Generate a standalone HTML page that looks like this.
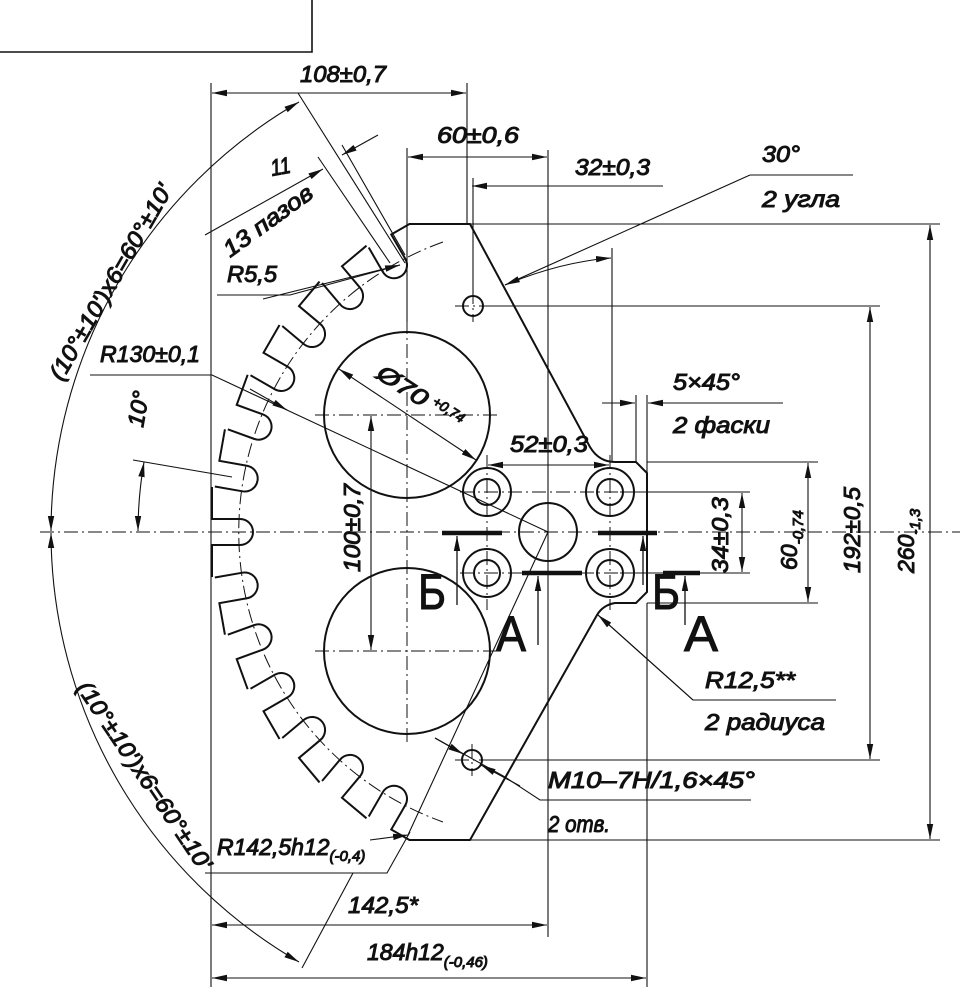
<!DOCTYPE html>
<html><head><meta charset="utf-8"><style>
html,body{margin:0;padding:0;background:#fff;}
svg{display:block;}
text{font-family:"Liberation Sans","DejaVu Sans",sans-serif;font-style:italic;fill:#111;}
.up{font-style:normal;}
</style></head><body>
<svg width="966" height="995" viewBox="0 0 966 995" xmlns="http://www.w3.org/2000/svg">
<defs>
<marker id="a" markerUnits="userSpaceOnUse" markerWidth="16" markerHeight="8" refX="15" refY="4" orient="auto-start-reverse"><path d="M0,0.8 L15,4 L0,7.2 z" fill="#111"/></marker>
</defs>
<g fill="none" stroke="#111">
<path d="M0,52 H312 V0" stroke-width="1.6"/>

<g stroke-width="2">
<g transform="rotate(0 548 532)"><path d="M212,487 V519 H240 A13,13 0 0 1 240,545 H212 V577"/></g>
<g transform="rotate(10 548 532)"><path d="M212,487 V519 H240 A13,13 0 0 1 240,545 H212"/></g>
<g transform="rotate(20 548 532)"><path d="M212,487 V519 H240 A13,13 0 0 1 240,545 H212"/></g>
<g transform="rotate(30 548 532)"><path d="M212,487 V519 H240 A13,13 0 0 1 240,545 H212"/></g>
<g transform="rotate(40 548 532)"><path d="M212,487 V519 H240 A13,13 0 0 1 240,545 H212"/></g>
<g transform="rotate(50 548 532)"><path d="M212,487 V519 H240 A13,13 0 0 1 240,545 H212"/></g>
<g transform="rotate(60 548 532)"><path d="M212,498 V519 H240 A13,13 0 0 1 240,545 H212"/></g>
<g transform="rotate(-10 548 532)"><path d="M212,519 H240 A13,13 0 0 1 240,545 H212 V577"/></g>
<g transform="rotate(-20 548 532)"><path d="M212,519 H240 A13,13 0 0 1 240,545 H212 V577"/></g>
<g transform="rotate(-30 548 532)"><path d="M212,519 H240 A13,13 0 0 1 240,545 H212 V577"/></g>
<g transform="rotate(-40 548 532)"><path d="M212,519 H240 A13,13 0 0 1 240,545 H212 V577"/></g>
<g transform="rotate(-50 548 532)"><path d="M212,519 H240 A13,13 0 0 1 240,545 H212 V577"/></g>
<g transform="rotate(-60 548 532)"><path d="M212,519 H240 A13,13 0 0 1 240,545 H212 V566"/></g>
<path d="M409,224 L470,224 L590,447 Q599,462 615,462 L636,462 L647,473 L647,592 L636,603 L615,603 Q603,605 597,615 L470,840 L409,840"/>
<circle cx="407" cy="415" r="83"/>
<circle cx="407" cy="651" r="83"/>
<circle cx="548" cy="532" r="29"/>
<circle cx="487" cy="492" r="24"/><circle cx="487" cy="492" r="13"/>
<circle cx="610" cy="492" r="24"/><circle cx="610" cy="492" r="13"/>
<circle cx="487" cy="573" r="24"/><circle cx="487" cy="573" r="13"/>
<circle cx="610" cy="573" r="24"/><circle cx="610" cy="573" r="13"/>
<circle cx="473" cy="306" r="10"/>
<circle cx="472" cy="760" r="10"/>
</g>

<g stroke-width="1" stroke-dasharray="14,4,2,4">
<path d="M40,532 H960"/>
<path d="M443,242 A308,308 0 0 0 443,822"/>
<path d="M315,415 H500 M407,320 V745 M315,651 H500"/>
<path d="M460,492 H640 M460,573 H640 M487,455 V610 M610,455 V610"/>
<path d="M455,306 H490 M473,290 V322 M455,760 H490 M472,744 V776"/>
</g>

<g stroke-width="1.1">
<path d="M211,83 V987"/>
<path d="M467,83 V225"/>
<path d="M407,148 V322"/>
<path d="M548,150 V937"/>
<path d="M473,178 V296"/>
<path d="M612,248 V462"/>
<path d="M636,395 V462 M647,395 V473"/>
<path d="M647,603 V987"/>
<path d="M470,224 H940 M483,306 H880 M647,462 H818 M620,492 H750 M620,573 H750 M647,603 H818 M482,760 H880 M470,840 H940"/>
<path d="M298,93 L405,263 M318,157 L390,263 M342,145 L405,255"/>
<path d="M217,295 H290 L400,265"/>
<path d="M90,375 H212 L548,532"/>
<path d="M750,175 H853 M750,175 L505,285"/>
<path d="M548,532 L408,835"/>
<path d="M205,873 H387 L410,832"/>
<path d="M598,615 L693,700 H836"/>
<path d="M435,738 L505,777 L540,800 H751"/>
<path d="M302,968 L353,873"/>
<path d="M133,460 L232,477"/>
<path d="M663,186 H480"/>
</g>

<g stroke-width="1.1" marker-start="url(#a)" marker-end="url(#a)">
<path d="M212,93 H466"/>
<path d="M408,157 H547"/>
<path d="M488,465 H609"/>
<path d="M742,493 V572"/>
<path d="M808,463 V602"/>
<path d="M870,307 V759"/>
<path d="M930,225 V839"/>
<path d="M371,416 V650"/>
<path d="M212,925 H547"/>
<path d="M212,978 H646"/>
<path d="M339,369 L476,460"/>
<path d="M299,102 A497,497 0 0 0 51,531"/>
<path d="M51,533 A497,497 0 0 0 299,962"/>
<path d="M144,462 A410,410 0 0 0 138,531"/>
<path d="M505,285 Q560,262 611,258"/>
</g>
<g stroke-width="1.1" marker-end="url(#a)">
<path d="M602,403 H635"/>
<path d="M783,403 H648"/>
<path d="M205,235 L323,169"/>
<path d="M378,135 L342,155"/>
<path d="M250,389 L287,410"/>
<path d="M263,299 L400,265"/>
<path d="M693,700 L598,615"/>
<path d="M370,840 L408,835"/>
<path d="M435,738 L463,754"/>
<path d="M520,786 L481,765"/>
<path d="M490,186 H472"/>
</g>

<g stroke-width="4.5">
<path d="M442,533 H502 M598,533 H657 M522,573 H582 M663,573 H700"/>
</g>
<g stroke-width="1.3" marker-end="url(#a)">
<path d="M457,605 V536"/>
<path d="M643,585 V536"/>
<path d="M538,645 V576"/>
<path d="M685,625 V576"/>
</g>

<g font-size="23">
<text x="300" y="82" textLength="86" lengthAdjust="spacingAndGlyphs">108±0,7</text>
<text x="437" y="143" textLength="82" lengthAdjust="spacingAndGlyphs">60±0,6</text>
<text x="575" y="175" textLength="75" lengthAdjust="spacingAndGlyphs">32±0,3</text>
<text x="762" y="162" textLength="38" lengthAdjust="spacingAndGlyphs">30°</text>
<text x="762" y="207" textLength="78" lengthAdjust="spacingAndGlyphs">2 угла</text>
<text x="673" y="390" textLength="67" lengthAdjust="spacingAndGlyphs">5×45°</text>
<text x="673" y="433" textLength="97" lengthAdjust="spacingAndGlyphs">2 фаски</text>
<text x="510" y="452" textLength="78" lengthAdjust="spacingAndGlyphs">52±0,3</text>
<text x="100" y="362" textLength="100" lengthAdjust="spacingAndGlyphs">R130±0,1</text>
<text transform="translate(272,176) rotate(-10)" textLength="20" lengthAdjust="spacingAndGlyphs">11</text>
<text x="227" y="282" textLength="50" lengthAdjust="spacingAndGlyphs">R5,5</text>
<text transform="translate(230,258) rotate(-36)" textLength="105" lengthAdjust="spacingAndGlyphs">13 пазов</text>
<text transform="translate(375,377) rotate(33)" textLength="56" lengthAdjust="spacingAndGlyphs">Ø70</text>
<text transform="translate(375,377) rotate(33)" font-size="14"><tspan x="62" y="-8">+0,74</tspan></text>
<text transform="translate(143,428) rotate(-80)" textLength="36" lengthAdjust="spacingAndGlyphs">10°</text>
<text transform="translate(360,572) rotate(-90)" textLength="88" lengthAdjust="spacingAndGlyphs">100±0,7</text>
<text transform="translate(728,573) rotate(-90)" textLength="76" lengthAdjust="spacingAndGlyphs">34±0,3</text>
<text transform="translate(797,570) rotate(-90)">60<tspan font-size="15" dy="6">-0,74</tspan></text>
<text transform="translate(860,573) rotate(-90)" textLength="86" lengthAdjust="spacingAndGlyphs">192±0,5</text>
<text transform="translate(914,573) rotate(-90)">260<tspan font-size="15" dy="6">-1,3</tspan></text>
<text x="705" y="688" textLength="90" lengthAdjust="spacingAndGlyphs">R12,5**</text>
<text x="705" y="730" textLength="120" lengthAdjust="spacingAndGlyphs">2 радиуса</text>
<text x="548" y="788" textLength="207" lengthAdjust="spacingAndGlyphs">M10–7H/1,6×45°</text>
<text x="548" y="832" textLength="62" lengthAdjust="spacingAndGlyphs">2 отв.</text>
<text x="217" y="855">R142,5h12<tspan font-size="15" dy="6">(-0,4)</tspan></text>
<text x="348" y="913" textLength="70" lengthAdjust="spacingAndGlyphs">142,5*</text>
<text x="367" y="960">184h12<tspan font-size="15" dy="7">(-0,46)</tspan></text>
<text transform="translate(62,382) rotate(-60)" textLength="222" lengthAdjust="spacingAndGlyphs">(10°±10')x6=60°±10'</text>
<text transform="translate(76,688) rotate(56)" textLength="222" lengthAdjust="spacingAndGlyphs">(10°±10')x6=60°±10'</text>
</g>
<g font-size="50">
<text class="up" x="418" y="609" textLength="28" lengthAdjust="spacingAndGlyphs">Б</text>
<text class="up" x="496" y="651" textLength="30" lengthAdjust="spacingAndGlyphs">А</text>
<text class="up" x="652" y="609" textLength="28" lengthAdjust="spacingAndGlyphs">Б</text>
<text class="up" x="684" y="651" textLength="34" lengthAdjust="spacingAndGlyphs">А</text>
</g>
</svg>
</body></html>
